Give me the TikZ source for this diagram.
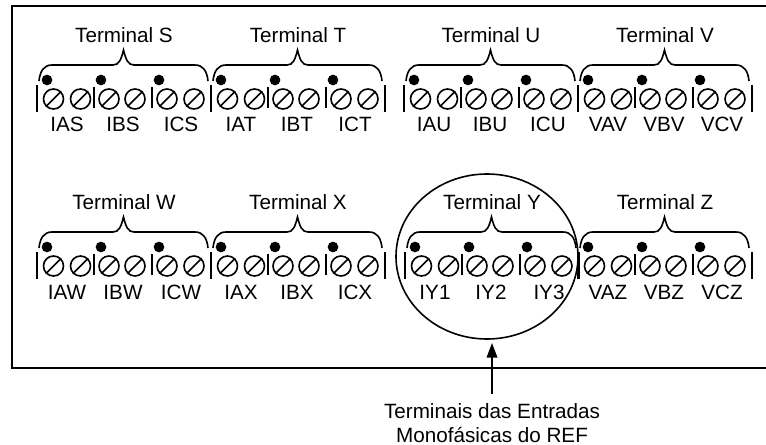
\documentclass[tikz,border=0pt]{standalone}
\usepackage{fontspec}
\setmainfont{Liberation Sans}
\usetikzlibrary{arrows.meta,shapes.geometric}
\tikzset{
	panel/.style={black,line width=1.5pt},
	bar/.style={black,line width=1.2pt},
	screw/.style={circle,draw=black,line width=1.2pt,inner sep=0pt,minimum size=15pt},
	slot/.style={black,line width=1.2pt},
	polarity/.style={circle,fill=black,inner sep=0pt,minimum size=8pt},
	tag/.style={anchor=base,font=\fontsize{15.5}{18}\selectfont,inner sep=0pt},
	grouping/.style={black,line width=1.2pt}
}
% one block of three channels, px offsets from left bar
\newcommand{\terminalblock}[6]{
	\begin{scope}[shift={(#2,#3)}]
	\draw [bar] (0,85) -- (0,112);
	\draw [bar] (174,85) -- (174,112);
	\draw [bar] (57,87) -- (57,108);
	\draw [bar] (115,87) -- (115,108);
	\node[tag] (title#1) at (87,42.5) {Terminal #1};
	\draw [grouping] (2,81) .. controls (3,71) and (7,65) .. (15,65) -- (76,65)
		.. controls (82,65) and (84,60) .. (86.5,50)
		.. controls (89,60) and (91,65) .. (97,65) -- (158,65)
		.. controls (166,65) and (170,71) .. (171,81);
	\foreach \dotx/\scra/\scrb/\labx/\lab in {10/16.5/43.5/30/#4,64/72/98/86/#5,122/130/157/144/#6}{
		\node[polarity] (dot\lab) at (\dotx,80) {};
		\node[screw] (a\lab) at (\scra,99) {};
		\node[screw] (b\lab) at (\scrb,99) {};
		\draw [slot] (a\lab.south west) -- (a\lab.north east);
		\draw [slot] (b\lab.south west) -- (b\lab.north east);
		\node[tag] (lab\lab) at (\labx,132) {\lab};
	}
	\end{scope}
}
\begin{document}
\begin{tikzpicture}[x=0.75pt,y=-0.75pt]
	\useasboundingbox (0,0) rectangle (766,445);
	% Panel
	\draw [panel] (770,6) -- (12,6) -- (12,368) -- (770,368);
	% Terminals
	\terminalblock{S}{37}{0}{IAS}{IBS}{ICS}
	\terminalblock{T}{211}{0}{IAT}{IBT}{ICT}
	\terminalblock{U}{404}{0}{IAU}{IBU}{ICU}
	\terminalblock{V}{578}{0}{VAV}{VBV}{VCV}
	\terminalblock{W}{37}{167}{IAW}{IBW}{ICW}
	\terminalblock{X}{211}{167}{IAX}{IBX}{ICX}
	\terminalblock{Y}{405}{167}{IY1}{IY2}{IY3}
	\terminalblock{Z}{578}{167}{VAZ}{VBZ}{VCZ}
	% Single phase inputs
	\node[ellipse,draw=black,line width=1.2pt,inner sep=0pt,minimum width=136.5pt,minimum height=123.75pt] (inputs) at (487,256.5) {};
	\coordinate (inputstip) at (492,343);
	\node[align=center,font=\fontsize{15.5}{18}\selectfont,inner xsep=0pt,inner ysep=7pt] (caption) at (492,423) {Terminais das Entradas\\Monofásicas do REF};
	\draw [-{Triangle[length=11pt,width=8pt]},line width=1.2pt] (caption) -- (inputstip);
\end{tikzpicture}
\end{document}
